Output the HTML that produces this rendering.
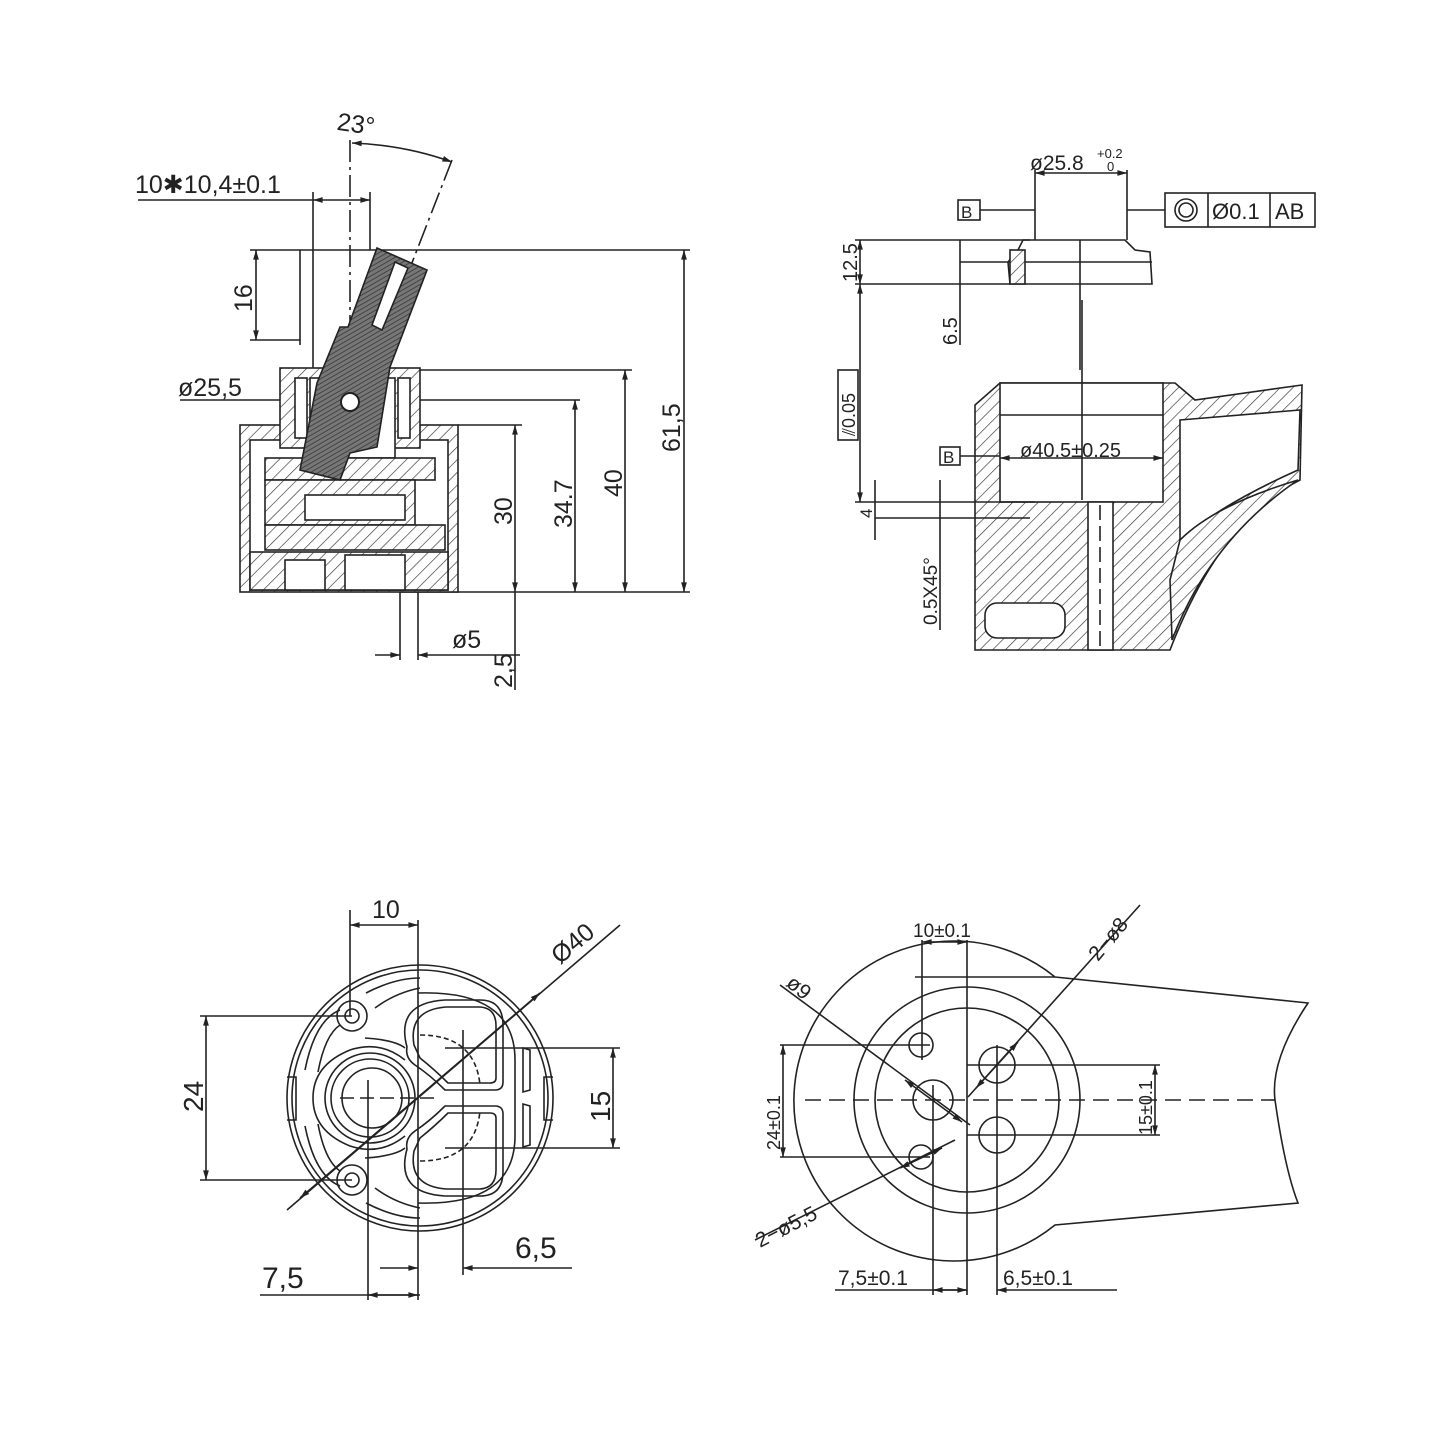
<!DOCTYPE html>
<html><head><meta charset="utf-8"><style>
html,body{margin:0;padding:0;background:#fff}
svg{display:block}
text{font-family:"Liberation Sans",sans-serif;fill:#222}
</style></head><body>
<svg width="1445" height="1445" viewBox="0 0 1445 1445" xmlns="http://www.w3.org/2000/svg">
<defs>
<pattern id="h" patternUnits="userSpaceOnUse" width="9" height="9" patternTransform="rotate(45)">
<rect width="9" height="9" fill="#fff"/><line x1="0" y1="0" x2="0" y2="9" stroke="#333" stroke-width="1.3"/></pattern>
<pattern id="hd" patternUnits="userSpaceOnUse" width="4" height="4" patternTransform="rotate(60)">
<rect width="4" height="4" fill="#777"/><line x1="0" y1="0" x2="0" y2="4" stroke="#333" stroke-width="1.5"/></pattern>
<marker id="a" viewBox="0 0 10 10" refX="10" refY="5" markerWidth="10" markerHeight="6" orient="auto-start-reverse"><path d="M0,2 L10,5 L0,8z" fill="#222"/></marker>
</defs>
<g stroke="#222" stroke-width="1.6" fill="none">

<!-- ============ TOP LEFT ============ -->
<line x1="250" y1="250" x2="690" y2="250"/>
<line x1="300" y1="340" x2="250" y2="340"/>
<line x1="420" y1="370" x2="632" y2="370"/>
<line x1="420" y1="400" x2="580" y2="400"/>
<line x1="458" y1="425" x2="522" y2="425"/>
<line x1="400" y1="592" x2="690" y2="592"/>
<line x1="313" y1="192" x2="313" y2="370"/>
<line x1="370" y1="192" x2="370" y2="250"/>
<line x1="138" y1="200" x2="313" y2="200"/>
<line x1="313" y1="200" x2="370" y2="200" marker-start="url(#a)" marker-end="url(#a)"/>
<line x1="350" y1="140" x2="350" y2="400" stroke-dasharray="22,5,3,5"/>
<line x1="452" y1="160" x2="380" y2="345" stroke-dasharray="22,5,3,5"/>
<path d="M352,143 Q405,145 452,162" marker-start="url(#a)" marker-end="url(#a)"/>
<line x1="256" y1="250" x2="256" y2="340" marker-start="url(#a)" marker-end="url(#a)"/>
<line x1="684" y1="250" x2="684" y2="592" marker-start="url(#a)" marker-end="url(#a)"/>
<line x1="625" y1="370" x2="625" y2="592" marker-start="url(#a)" marker-end="url(#a)"/>
<line x1="575" y1="400" x2="575" y2="592" marker-start="url(#a)" marker-end="url(#a)"/>
<line x1="515" y1="425" x2="515" y2="592" marker-start="url(#a)" marker-end="url(#a)"/>
<line x1="180" y1="400" x2="290" y2="400"/>
<rect x="240" y="425" width="218" height="167" fill="url(#h)"/>
<rect x="250" y="440" width="198" height="150" fill="#fff"/>
<rect x="280" y="368" width="140" height="80" fill="url(#h)"/>
<rect x="295" y="378" width="12" height="60" fill="#fff"/>
<rect x="398" y="378" width="12" height="60" fill="#fff"/>
<rect x="310" y="378" width="85" height="80" fill="#fff"/>
<rect x="265" y="458" width="170" height="22" fill="url(#h)"/>
<rect x="265" y="480" width="150" height="45" fill="url(#h)"/>
<rect x="305" y="495" width="100" height="25" fill="#fff"/>
<rect x="265" y="525" width="180" height="25" fill="url(#h)"/>
<rect x="250" y="552" width="198" height="38" fill="url(#h)"/>
<rect x="285" y="560" width="40" height="30" fill="#fff"/>
<rect x="345" y="555" width="60" height="35" fill="#fff"/>
<line x1="400" y1="592" x2="400" y2="660"/>
<line x1="418" y1="592" x2="418" y2="660"/>
<line x1="375" y1="655" x2="400" y2="655" marker-end="url(#a)"/>
<line x1="418" y1="655" x2="520" y2="655" marker-start="url(#a)"/>
<line x1="515" y1="592" x2="515" y2="690"/>
<line x1="300" y1="250" x2="300" y2="345"/>
<polygon points="377,248 427,270 390,367 377,447 350,453 340,480 300,470 317,383 340,327 348,327" fill="url(#hd)" stroke="#222"/>
<polygon points="395,262 408,268 382,330 372,325" fill="#fff"/>
<circle cx="350" cy="402" r="9" fill="#fff" stroke-width="2"/>

<!-- ============ TOP RIGHT ============ -->
<line x1="1035" y1="170" x2="1035" y2="258"/>
<line x1="1127" y1="170" x2="1127" y2="240"/>
<line x1="1035" y1="173" x2="1127" y2="173" marker-start="url(#a)" marker-end="url(#a)"/>
<rect x="958" y="200" width="22" height="20"/>
<line x1="980" y1="210" x2="1035" y2="210"/>
<line x1="1127" y1="210" x2="1165" y2="210"/>
<rect x="1165" y="193" width="150" height="34"/>
<line x1="1208" y1="193" x2="1208" y2="227"/>
<line x1="1270" y1="193" x2="1270" y2="227"/>
<circle cx="1186" cy="210" r="11"/><circle cx="1186" cy="210" r="7"/>
<path d="M1023,240 L1125,240 L1135,250 L1150,252 L1152,284 L1010,284 L1008,262 L1018,250z" fill="#fff"/>
<rect x="1010" y="250" width="15" height="34" fill="url(#h)"/>
<line x1="1025" y1="262" x2="1152" y2="262"/>
<line x1="1080" y1="240" x2="1080" y2="370"/>
<line x1="855" y1="240" x2="1030" y2="240"/>
<line x1="855" y1="284" x2="1010" y2="284"/>
<line x1="960" y1="262" x2="1010" y2="262"/>
<line x1="860" y1="240" x2="860" y2="284" marker-start="url(#a)" marker-end="url(#a)"/>
<line x1="860" y1="284" x2="860" y2="502" marker-start="url(#a)" marker-end="url(#a)"/>
<line x1="960" y1="240" x2="960" y2="345"/>
<rect x="838" y="370" width="20" height="70"/>
<path d="M1000,383 L1175,383 L1195,400 L1302,385 L1300,480 Q1220,520 1170,650 L975,650 L975,405 Z" fill="url(#h)"/>
<path d="M1180,420 L1300,410 L1298,470 Q1220,505 1180,540 Z" fill="#fff"/>
<path d="M1180,540 Q1215,505 1298,480 Q1210,540 1172,640 L1170,580z" fill="url(#h)"/>
<rect x="1000" y="383" width="163" height="119" fill="#fff"/>
<line x1="1000" y1="415" x2="1163" y2="415"/>
<rect x="1088" y="502" width="25" height="148" fill="#fff"/>
<line x1="1100" y1="505" x2="1100" y2="650" stroke-dasharray="15,6"/>
<rect x="985" y="603" width="80" height="35" rx="12" fill="#fff"/>
<line x1="1082" y1="300" x2="1082" y2="500" />
<rect x="940" y="447" width="20" height="18"/>
<line x1="960" y1="456" x2="1000" y2="456"/>
<line x1="1000" y1="458" x2="1163" y2="458" marker-start="url(#a)" marker-end="url(#a)"/>
<line x1="855" y1="502" x2="1035" y2="502"/>
<line x1="875" y1="518" x2="1030" y2="518"/>
<line x1="875" y1="480" x2="875" y2="540"/>
<line x1="940" y1="480" x2="940" y2="630"/>

<!-- ============ BOTTOM LEFT ============ -->
<circle cx="420" cy="1098" r="133"/>
<circle cx="420" cy="1098" r="128"/>
<!-- edge notches -->
<path d="M287,1077 L296,1077 L296,1120 L287,1120"/>
<path d="M553,1077 L544,1077 L544,1120 L553,1120"/>
<!-- rim slots -->
<path d="M305,1070 Q315,1020 340,1010"/><path d="M318,1072 Q325,1035 340,1025"/>
<path d="M305,1126 Q315,1176 340,1186"/><path d="M318,1124 Q325,1161 340,1171"/>
<path d="M366,993 Q395,978 420,978"/><path d="M375,1008 Q395,993 420,988"/>
<path d="M366,1203 Q395,1218 420,1218"/><path d="M375,1188 Q395,1203 420,1208"/>
<!-- mount holes -->
<circle cx="352" cy="1016" r="15"/><circle cx="352" cy="1016" r="7"/>
<circle cx="352" cy="1180" r="15"/><circle cx="352" cy="1180" r="7"/>
<!-- hub -->
<path d="M405,1060 Q380,1040 350,1050 Q313,1065 313,1098 Q313,1131 350,1146 Q380,1156 405,1136"/>
<path d="M365,1038 Q395,1040 405,1048"/><path d="M365,1158 Q395,1156 405,1148"/>
<circle cx="370" cy="1098" r="45"/>
<circle cx="370" cy="1098" r="39"/>
<circle cx="372" cy="1098" r="30"/>
<!-- outer arc around lobes -->
<path d="M418,993 Q515,990 515,1060 L515,1136 Q515,1206 418,1203"/>
<!-- lobes -->
<path d="M407,1047 Q395,1003 445,1000 L480,1000 Q503,1000 503,1025 L503,1082 Q503,1090 495,1090 L445,1090 Q430,1075 415,1065 Q405,1058 407,1047 Z"/>
<path d="M414,1045 Q408,1010 446,1007 L480,1007 Q496,1008 496,1026 L496,1078 Q496,1083 490,1083 L448,1083 Q435,1070 420,1058 Z"/>
<path d="M407,1149 Q395,1193 445,1196 L480,1196 Q503,1196 503,1171 L503,1114 Q503,1106 495,1106 L445,1106 Q430,1121 415,1131 Q405,1138 407,1149 Z"/>
<path d="M414,1151 Q408,1186 446,1189 L480,1189 Q496,1188 496,1170 L496,1118 Q496,1113 490,1113 L448,1113 Q435,1126 420,1138 Z"/>
<path d="M420,1035 Q475,1035 480,1085" stroke-dasharray="5,3"/>
<path d="M420,1161 Q475,1161 480,1111" stroke-dasharray="5,3"/>
<path d="M523,1048 L530,1050 L530,1090 L523,1092z"/>
<path d="M523,1104 L530,1106 L530,1145 L523,1147z"/>
<line x1="350" y1="910" x2="350" y2="1016"/>
<line x1="418" y1="920" x2="418" y2="1300"/>
<line x1="350" y1="925" x2="418" y2="925" marker-start="url(#a)" marker-end="url(#a)"/>
<line x1="200" y1="1016" x2="352" y2="1016"/>
<line x1="200" y1="1180" x2="352" y2="1180"/>
<line x1="206" y1="1016" x2="206" y2="1180" marker-start="url(#a)" marker-end="url(#a)"/>
<line x1="445" y1="1048" x2="620" y2="1048"/>
<line x1="445" y1="1148" x2="620" y2="1148"/>
<line x1="613" y1="1048" x2="613" y2="1148" marker-start="url(#a)" marker-end="url(#a)"/>
<line x1="287" y1="1210" x2="620" y2="925"/>
<line x1="300" y1="1198" x2="540" y2="993" marker-start="url(#a)" marker-end="url(#a)"/>
<line x1="368" y1="1080" x2="368" y2="1300"/>
<line x1="463" y1="1030" x2="463" y2="1275"/>
<line x1="340" y1="1098" x2="440" y2="1098" stroke-dasharray="14,6"/>
<line x1="380" y1="1268" x2="418" y2="1268" marker-end="url(#a)"/>
<line x1="463" y1="1268" x2="572" y2="1268" marker-start="url(#a)"/>
<line x1="260" y1="1295" x2="420" y2="1295"/>
<line x1="368" y1="1295" x2="418" y2="1295" marker-start="url(#a)" marker-end="url(#a)"/>

<!-- ============ BOTTOM RIGHT ============ -->
<path d="M1055,977 L1308,1003 Q1270,1060 1275,1100 Q1285,1170 1298,1203 L1055,1225 A160,160 0 1 1 1055,977 Z" fill="none"/>
<path d="M915,977 L1055,977"/>
<circle cx="967" cy="1100" r="113"/>
<circle cx="967" cy="1100" r="92"/>
<circle cx="921" cy="1045" r="12"/><circle cx="921" cy="1157" r="12"/>
<circle cx="933" cy="1100" r="20"/>
<circle cx="997" cy="1065" r="18"/><circle cx="997" cy="1135" r="18"/>
<line x1="805" y1="1100" x2="1275" y2="1100" stroke-dasharray="16,8"/>
<line x1="922" y1="940" x2="922" y2="1060"/>
<line x1="967" y1="940" x2="967" y2="1295"/>
<line x1="922" y1="942" x2="967" y2="942" marker-start="url(#a)" marker-end="url(#a)"/>
<line x1="933" y1="1085" x2="933" y2="1295"/>
<line x1="997" y1="1045" x2="997" y2="1295"/>
<line x1="780" y1="1045" x2="930" y2="1045"/>
<line x1="780" y1="1157" x2="930" y2="1157"/>
<line x1="783" y1="1045" x2="783" y2="1157" marker-start="url(#a)" marker-end="url(#a)"/>
<line x1="967" y1="1065" x2="1160" y2="1065"/>
<line x1="967" y1="1135" x2="1160" y2="1135"/>
<line x1="1155" y1="1065" x2="1155" y2="1135" marker-start="url(#a)" marker-end="url(#a)"/>
<line x1="780" y1="985" x2="970" y2="1125"/>
<line x1="905" y1="1080" x2="962" y2="1122" marker-start="url(#a)" marker-end="url(#a)"/>
<line x1="968" y1="1097" x2="1140" y2="905"/>
<line x1="976" y1="1088" x2="1018" y2="1042" marker-start="url(#a)" marker-end="url(#a)"/>
<line x1="755" y1="1240" x2="955" y2="1140"/>
<line x1="900" y1="1168" x2="942" y2="1148" marker-start="url(#a)" marker-end="url(#a)"/>
<line x1="835" y1="1290" x2="967" y2="1290"/>
<line x1="933" y1="1290" x2="967" y2="1290" marker-start="url(#a)" marker-end="url(#a)"/>
<line x1="997" y1="1290" x2="1117" y2="1290" marker-start="url(#a)"/>
</g>

<g font-size="25">
<text x="337" y="133" transform="rotate(8 360 125)">23°</text>
<text x="135" y="193">10✱10,4±0.1</text>
<text x="178" y="396">ø25,5</text>
<text transform="translate(252,312) rotate(-90)">16</text>
<text transform="translate(680,452) rotate(-90)">61,5</text>
<text transform="translate(622,497) rotate(-90)">40</text>
<text transform="translate(572,528) rotate(-90)">34.7</text>
<text transform="translate(512,525) rotate(-90)">30</text>
<text x="452" y="648">ø5</text>
<text transform="translate(512,688) rotate(-90)">2,5</text>

<text x="1030" y="170" font-size="21">ø25.8</text>
<text x="1097" y="158" font-size="13">+0.2</text>
<text x="1107" y="171" font-size="13">0</text>
<text x="961" y="218" font-size="17">B</text>
<text x="1212" y="219" font-size="22">Ø0.1</text>
<text x="1275" y="219" font-size="22">AB</text>
<text transform="translate(857,282) rotate(-90)" font-size="20">12.5</text>
<text transform="translate(957,345) rotate(-90)" font-size="20">6.5</text>
<text transform="translate(855,436) rotate(-90)" font-size="18">⫽0.05</text>
<text x="943" y="463" font-size="17">B</text>
<text x="1020" y="457" font-size="20">ø40.5±0.25</text>
<text transform="translate(872,518) rotate(-90)" font-size="17">4</text>
<text transform="translate(937,625) rotate(-90)" font-size="19">0.5X45°</text>

<text x="372" y="918">10</text>
<text transform="translate(560,965) rotate(-40)">Ø40</text>
<text transform="translate(203,1112) rotate(-90)" font-size="28">24</text>
<text transform="translate(610,1122) rotate(-90)" font-size="28">15</text>
<text x="515" y="1258" font-size="30">6,5</text>
<text x="262" y="1288" font-size="30">7,5</text>

<text x="913" y="937" font-size="19">10±0.1</text>
<text transform="translate(1098,962) rotate(-50)" font-size="21">2−ø8</text>
<text transform="translate(785,985) rotate(40)" font-size="21">ø9</text>
<text transform="translate(780,1150) rotate(-90)" font-size="18">24±0.1</text>
<text transform="translate(1152,1135) rotate(-90)" font-size="18">15±0.1</text>
<text transform="translate(760,1248) rotate(-27)" font-size="21">2−ø5,5</text>
<text x="838" y="1285" font-size="21">7,5±0.1</text>
<text x="1003" y="1285" font-size="21">6,5±0.1</text>
</g>
</svg>
</body></html>
